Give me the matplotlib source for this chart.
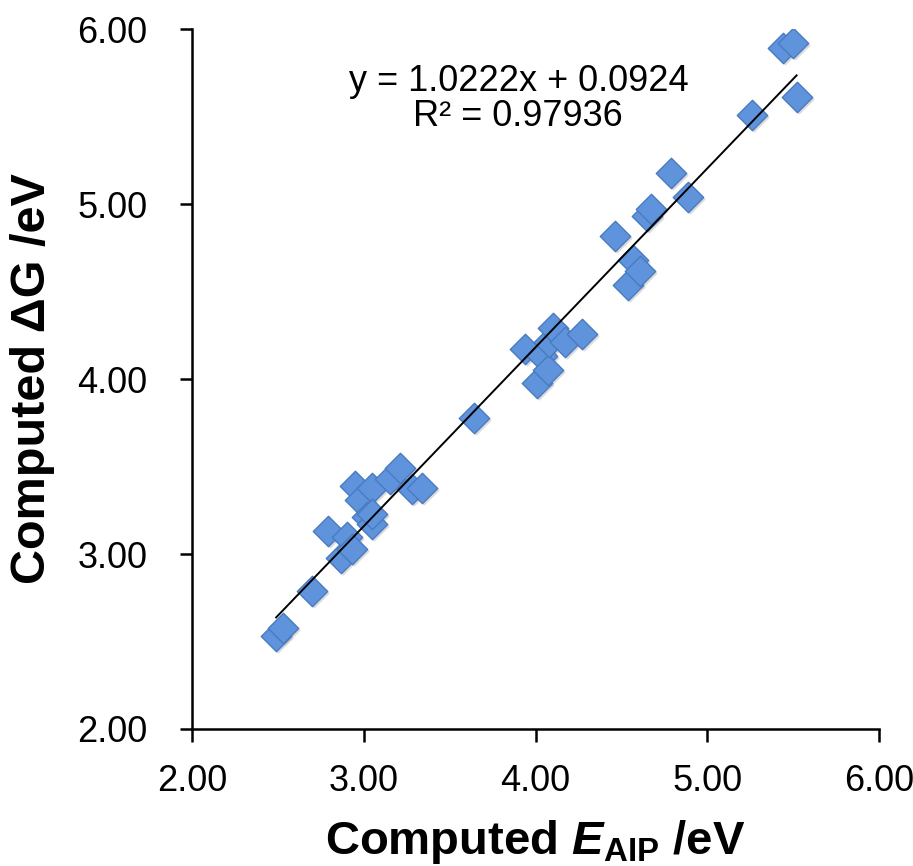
import matplotlib
matplotlib.use("Agg")
import matplotlib.pyplot as plt
import numpy as np

# Computed E_AIP (eV) vs computed dG (eV)
eaip = [2.49, 2.53, 2.70, 2.79, 2.87, 2.90, 2.93, 2.95, 2.98, 3.02, 3.05,
        3.05, 3.05, 3.15, 3.21, 3.28, 3.34,
        3.64, 3.94, 4.01, 4.04, 4.07, 4.08, 4.10, 4.17, 4.27,
        4.46, 4.54, 4.57, 4.61, 4.65, 4.67, 4.79, 4.89,
        5.26, 5.44, 5.50, 5.52]
dg = [2.53, 2.58, 2.79, 3.13, 2.98, 3.10, 3.03, 3.39, 3.31, 3.21, 3.38,
      3.17, 3.23, 3.43, 3.49, 3.37, 3.38,
      3.78, 4.17, 3.98, 4.13, 4.05, 4.21, 4.29, 4.21, 4.26,
      4.82, 4.54, 4.68, 4.62, 4.93, 4.97, 5.18, 5.04,
      5.51, 5.89, 5.92, 5.61]

slope = 1.0222
intercept = 0.0924
r2 = 0.97936

plt.rcParams['font.family'] = ['Liberation Sans', 'DejaVu Sans']
plt.rcParams['mathtext.fontset'] = 'custom'
plt.rcParams['mathtext.rm'] = 'Liberation Sans:bold'
plt.rcParams['mathtext.it'] = 'Liberation Sans:italic:bold'
plt.rcParams['mathtext.bf'] = 'Liberation Sans:bold'

fig = plt.figure(figsize=(9.13, 8.66), dpi=100)
ax = fig.add_axes([0.2103, 0.1582, 0.7525, 0.8083])

# shadow then markers
ax.scatter(np.array(eaip) + 0.012, np.array(dg) - 0.012, marker='D', s=240,
           color='#b8b8b8', alpha=0.5, linewidths=0, zorder=2)
ax.scatter(eaip, dg, marker='D', s=240, color='#5f93dc', edgecolors='#4a7bc0',
           linewidths=1.0, zorder=3)

xs = np.array([min(eaip), max(eaip)])
ax.plot(xs, slope * xs + intercept, color='black', lw=1.4, zorder=4)

ax.text(3.90, 5.40, "y = %.4fx + %.4f\nR\u00b2 = %.5f" % (slope, intercept, r2),
        ha='center', va='bottom', fontsize=26, linespacing=1.0,
        multialignment='center')

ax.set_xlim(2, 6)
ax.set_ylim(2, 6)
ticks = [2, 3, 4, 5, 6]
ax.set_xticks(ticks)
ax.set_yticks(ticks)
ax.set_xticklabels(["%.2f" % t for t in ticks])
ax.set_yticklabels(["%.2f" % t for t in ticks])
ax.tick_params(labelsize=26, width=1.8, length=9, direction='out')
ax.tick_params(axis='x', pad=16)
ax.tick_params(axis='y', pad=23)

for s in ['top', 'right']:
    ax.spines[s].set_visible(False)
for s in ['left', 'bottom']:
    ax.spines[s].set_linewidth(1.8)

ax.set_xlabel("Computed $E_{\\mathrm{AIP}}$ /eV", fontsize=34, fontweight='bold', labelpad=14)
ax.set_ylabel("Computed \u0394G /eV", fontsize=35, fontweight='bold', labelpad=16)

fig.savefig("out.png", dpi=100)
